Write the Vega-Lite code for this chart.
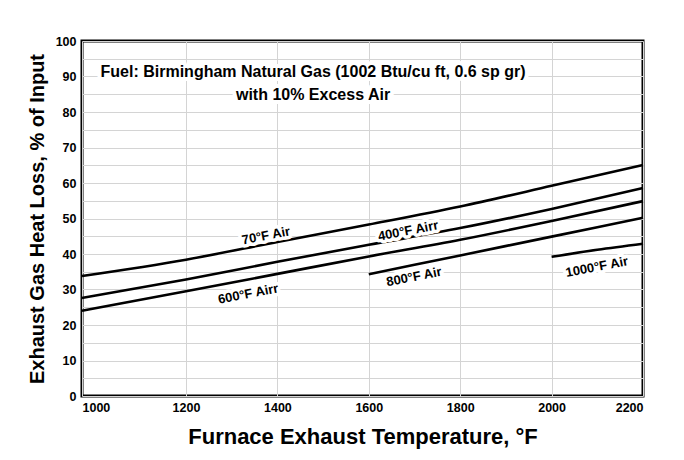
{
  "$schema": "https://vega.github.io/schema/vega-lite/v6.json",
  "width": 561,
  "height": 355,
  "autosize": {"type": "none"},
  "padding": {"left": 82, "top": 41, "right": 41, "bottom": 64},
  "background": "white",
  "config": {
    "font": "Liberation Sans, Arial, sans-serif",
    "view": {"stroke": "black", "strokeWidth": 3},
    "axis": {
      "gridColor": "#d4d4d4",
      "gridWidth": 1,
      "gridOpacity": 1,
      "domain": false,
      "ticks": false,
      "labelFont": "Liberation Sans, Arial, sans-serif",
      "labelFontWeight": "bold",
      "labelFontSize": 12.5,
      "labelColor": "black",
      "titleFont": "Liberation Sans, Arial, sans-serif",
      "titleFontWeight": "bold",
      "titleColor": "black"
    }
  },
  "datasets": {
    "curves": [
      {"series": "70°F Air", "temp": 1000, "loss": 33.8},
      {"series": "70°F Air", "temp": 1200, "loss": 38.4},
      {"series": "70°F Air", "temp": 1400, "loss": 43.4},
      {"series": "70°F Air", "temp": 1600, "loss": 48.3},
      {"series": "70°F Air", "temp": 1800, "loss": 53.4},
      {"series": "70°F Air", "temp": 2000, "loss": 59.2},
      {"series": "70°F Air", "temp": 2200, "loss": 65.1},
      {"series": "400°F Air", "temp": 1000, "loss": 27.6},
      {"series": "400°F Air", "temp": 1200, "loss": 32.8},
      {"series": "400°F Air", "temp": 1400, "loss": 37.8},
      {"series": "400°F Air", "temp": 1600, "loss": 42.6},
      {"series": "400°F Air", "temp": 1800, "loss": 47.3},
      {"series": "400°F Air", "temp": 2000, "loss": 52.7},
      {"series": "400°F Air", "temp": 2200, "loss": 58.6},
      {"series": "600°F Air", "temp": 1000, "loss": 24.0},
      {"series": "600°F Air", "temp": 1200, "loss": 29.5},
      {"series": "600°F Air", "temp": 1400, "loss": 34.4},
      {"series": "600°F Air", "temp": 1600, "loss": 39.3},
      {"series": "600°F Air", "temp": 1800, "loss": 44.0},
      {"series": "600°F Air", "temp": 2000, "loss": 49.3},
      {"series": "600°F Air", "temp": 2200, "loss": 54.9},
      {"series": "800°F Air", "temp": 1600, "loss": 34.3},
      {"series": "800°F Air", "temp": 1800, "loss": 39.6},
      {"series": "800°F Air", "temp": 2000, "loss": 44.9},
      {"series": "800°F Air", "temp": 2200, "loss": 50.2},
      {"series": "1000°F Air", "temp": 2000, "loss": 39.2},
      {"series": "1000°F Air", "temp": 2100, "loss": 41.2},
      {"series": "1000°F Air", "temp": 2200, "loss": 42.9}
    ],
    "labels": [
      {"label": "70°F Air", "temp": 1375, "loss": 45.1},
      {"label": "400°F Airr", "temp": 1686, "loss": 46.5},
      {"label": "600°F Airr", "temp": 1336, "loss": 28.7},
      {"label": "800°F Air", "temp": 1699, "loss": 33.5},
      {"label": "1000°F Air", "temp": 2099, "loss": 36.3}
    ],
    "notes": [
      {"note": "Fuel: Birmingham Natural Gas (1002 Btu/cu ft, 0.6 sp gr)", "temp": 1478, "loss": 91.3},
      {"note": "with 10% Excess Air", "temp": 1478, "loss": 84.8}
    ]
  },
  "encoding": {
    "x": {
      "field": "temp",
      "type": "quantitative",
      "scale": {"domain": [1000, 1200, 2200], "range": [0, 104, 561], "nice": false, "zero": false},
      "axis": {
        "values": [1000, 1200, 1400, 1600, 1800, 2000, 2200],
        "format": "d",
        "grid": true,
        "labelPadding": 5,
        "title": "Furnace Exhaust Temperature, °F",
        "titleFontSize": 22,
        "titlePadding": 13
      }
    },
    "y": {
      "field": "loss",
      "type": "quantitative",
      "scale": {"domain": [0, 100], "nice": false, "zero": false},
      "axis": {
        "values": [0, 5, 10, 15, 20, 25, 30, 35, 40, 45, 50, 55, 60, 65, 70, 75, 80, 85, 90, 95, 100],
        "labelExpr": "datum.value % 10 === 0 ? datum.label : ''",
        "grid": true,
        "labelPadding": 6,
        "title": "Exhaust Gas Heat Loss, % of Input",
        "titleFontSize": 20,
        "titlePadding": 8
      }
    }
  },
  "layer": [
    {
      "data": {"name": "notes"},
      "mark": {"type": "text", "fontSize": 16, "fontWeight": "bold", "stroke": "white", "strokeWidth": 8, "strokeJoin": "round", "color": "white"},
      "encoding": {"text": {"field": "note"}}
    },
    {
      "data": {"name": "notes"},
      "mark": {"type": "text", "fontSize": 16, "fontWeight": "bold", "color": "black"},
      "encoding": {"text": {"field": "note"}}
    },
    {
      "data": {"name": "curves"},
      "mark": {"type": "line", "color": "black", "strokeWidth": 2.6, "interpolate": "monotone"},
      "encoding": {"detail": {"field": "series"}}
    },
    {
      "data": {"name": "labels"},
      "mark": {"type": "text", "fontSize": 13, "fontWeight": "bold", "angle": -11, "stroke": "white", "strokeWidth": 7, "strokeJoin": "round", "color": "white"},
      "encoding": {"text": {"field": "label"}}
    },
    {
      "data": {"name": "labels"},
      "mark": {"type": "text", "fontSize": 13, "fontWeight": "bold", "angle": -11, "color": "black"},
      "encoding": {"text": {"field": "label"}}
    }
  ]
}
